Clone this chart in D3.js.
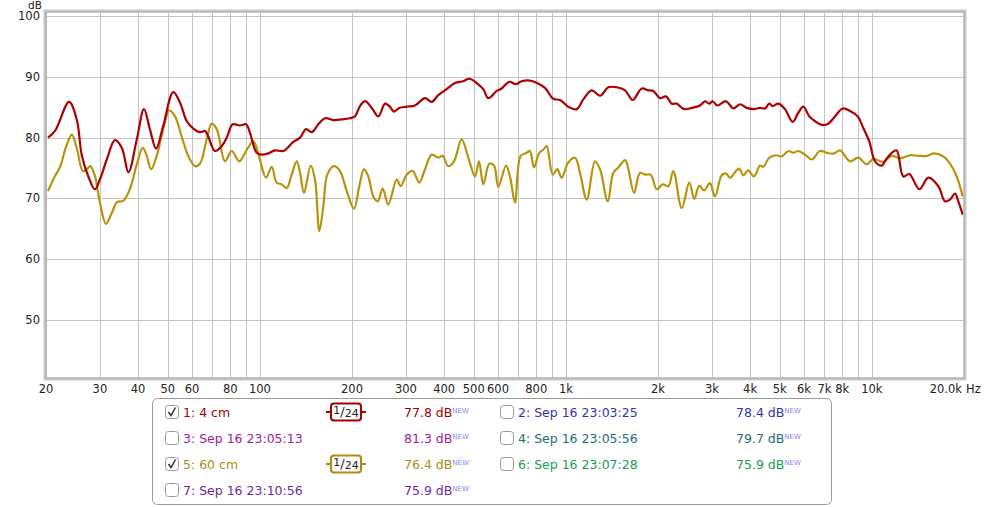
<!DOCTYPE html>
<html>
<head>
<meta charset="utf-8">
<script src="https://cdn.jsdelivr.net/npm/d3@7"></script>
<style>
  body { margin: 0; background: #fff; }
  svg text { font-family: "DejaVu Sans", sans-serif; }
</style>
</head>
<body>
<svg id="chart" width="986" height="507"></svg>
<script>
// measurement 1: 4 cm (red)
const freq4cm = [20.3, 21.4, 23.8, 25.2, 26.2, 27.5, 28.9, 30.0, 31.6, 33.6, 35.4, 37.2, 39.6, 41.8, 43.7, 45.8,
  48.3, 52.1, 54.8, 57.7, 60.6, 63.7, 66.2, 67.8, 71.3, 75.0, 77.9, 81.5, 86.1, 90.1, 92.8, 97.6,
  101.4, 106.5, 112, 119.3, 128.6, 135.3, 141.5, 147.7, 155.2, 163.3, 173.8, 185.1, 197, 204.5, 212.4, 220.6,
  232, 243.8, 256.4, 264.8, 274.4, 285.5, 301.9, 321.2, 346.4, 364.3, 382.8, 407.8, 434.1, 462, 483.4, 511.1,
  537.2, 557.7, 594.1, 616.9, 653.3, 686.9, 717.1, 763.3, 798.6, 854.6, 909.6, 956.6, 1018, 1085, 1140, 1214,
  1293, 1376, 1466, 1561, 1653, 1769, 1859, 1930, 2030, 2124, 2217, 2302, 2432, 2577, 2744, 2849,
  2942, 3019, 3125, 3336, 3525, 3707, 3899, 4097, 4309, 4475, 4621, 4741, 4945, 5200, 5512, 5749,
  5969, 6244, 6519, 6855, 7203, 7575, 8028, 8482, 8986, 9373, 9806, 10240, 10770, 11120, 11610, 12050,
  12660, 13250, 14290, 15290, 16480, 17340, 18000, 18690, 19160, 19810];
const db4cm = [80.0, 81.1, 85.9, 83.0, 77.0, 73.6, 71.5, 73.1, 76.4, 79.6, 78.3, 74.3, 79.7, 84.7, 81.4, 78.2,
  81.9, 87.5, 85.8, 82.7, 81.5, 80.9, 81.1, 80.2, 77.8, 78.6, 80.0, 82.2, 82.0, 82.2, 80.8, 77.5,
  77.2, 77.4, 77.9, 77.8, 79.3, 80.0, 81.4, 80.9, 82.2, 83.2, 82.9, 83.0, 83.2, 83.5, 85.2, 86.0,
  84.9, 83.5, 85.6, 85.2, 84.3, 84.9, 85.1, 85.3, 86.5, 85.9, 87.0, 88.0, 89.0, 89.3, 89.7, 89.0,
  88.0, 86.5, 87.7, 88.1, 89.2, 88.8, 89.3, 89.4, 89.1, 88.2, 86.4, 86.2, 85.1, 84.7, 86.3, 87.8,
  86.9, 88.3, 88.3, 87.8, 86.2, 88.1, 87.8, 87.7, 86.5, 86.8, 85.6, 85.6, 84.7, 84.9, 85.3, 86.0,
  85.6, 86.0, 85.3, 86.0, 84.8, 85.5, 84.9, 84.7, 84.9, 84.8, 85.6, 85.2, 85.6, 84.7, 82.6, 84.1,
  85.1, 83.5, 82.7, 82.1, 82.3, 83.5, 84.8, 84.4, 83.5, 81.6, 79.4, 76.1, 75.4, 76.4, 77.5, 77.9,
  73.6, 74.0, 71.5, 73.4, 72.0, 69.5, 69.8, 70.8, 69.5, 67.3];

// measurement 5: 60 cm (gold)
const freq60cm = [20.3, 21.4, 22.2, 23.3, 24.3, 25.2, 26.4, 27.2, 27.9, 28.9, 30.0, 31.4, 32.8, 34.2, 35.8, 37.6,
  39.6, 41.4, 42.7, 44.1, 46.0, 48.3, 50.6, 52.8, 55.5, 58.3, 61.4, 63.7, 67.0, 69.6, 72.3, 76.9,
  80.9, 85.6, 90.6, 95.2, 99.6, 104.7, 109.3, 113.4, 117.8, 122.4, 127.0, 131.9, 135.3, 139.4, 146.6, 151.4,
  156.4, 161.2, 166.1, 174.7, 182.7, 192.2, 203.0, 211.3, 218.9, 226.1, 234.8, 242.7, 252.0, 262.8, 280.0, 288.6,
  301.9, 315.8, 331.8, 346.4, 364.3, 382.8, 395.7, 412.7, 430.9, 456.5, 479.9, 505.0, 520.0, 537.2, 562.0, 582.3,
  601.4, 637.3, 656.6, 681.9, 711.7, 744.6, 763.3, 786.7, 818.7, 843.8, 865.6, 905.6, 937.4, 969.0, 1018, 1071,
  1112, 1170, 1245, 1293, 1370, 1429, 1484, 1561, 1600, 1670, 1747, 1814, 1893, 1981, 2073, 2162,
  2244, 2391, 2531, 2628, 2729, 2827, 2957, 3071, 3229, 3336, 3439, 3597, 3687, 3800, 3945, 4118,
  4309, 4418, 4621, 4886, 5073, 5332, 5537, 5749, 6046, 6358, 6767, 7117, 7519, 7866, 8482, 9028,
  9616, 10110, 10900, 11610, 12350, 13320, 14180, 15110, 15960, 17120, 18000, 18930, 19810];
const db60cm = [71.2, 73.7, 75.1, 78.6, 80.5, 78.3, 74.5, 74.8, 75.3, 73.7, 69.3, 65.8, 67.6, 69.4, 69.6, 71.5,
  75.6, 78.3, 77.0, 74.8, 77.0, 81.4, 84.5, 83.5, 80.2, 77.0, 75.3, 75.7, 79.7, 82.3, 81.4, 76.1,
  77.8, 76.1, 78.0, 79.4, 76.7, 73.4, 75.2, 72.6, 72.3, 71.7, 73.9, 76.1, 74.2, 70.9, 75.4, 73.1,
  64.6, 68.7, 73.9, 75.3, 74.5, 71.2, 68.3, 72.0, 74.8, 73.6, 70.3, 69.5, 71.6, 69.0, 73.1, 72.0,
  73.9, 74.5, 72.6, 74.8, 77.2, 76.7, 77.0, 75.3, 76.1, 79.7, 76.7, 73.6, 76.1, 72.3, 75.7, 75.4,
  71.9, 75.4, 73.6, 69.3, 77.0, 77.5, 77.8, 75.1, 77.5, 78.0, 78.6, 73.9, 74.8, 73.4, 75.9, 76.7,
  74.2, 69.8, 76.1, 74.8, 69.5, 74.2, 75.1, 76.3, 74.8, 70.9, 74.2, 73.9, 73.9, 71.5, 72.3, 72.0,
  74.5, 68.4, 72.6, 69.9, 72.1, 71.3, 72.5, 70.3, 73.8, 74.1, 73.4, 74.5, 74.9, 73.8, 74.6, 73.6,
  75.4, 75.2, 76.7, 77.1, 76.9, 77.8, 77.5, 77.8, 77.2, 76.4, 77.8, 77.5, 77.4, 77.9, 76.1, 76.7,
  75.6, 76.5, 76.0, 77.0, 76.6, 77.1, 77.0, 77.0, 77.4, 76.9, 75.7, 73.6, 70.3];

const gridFreqs = [20, 30, 40, 50, 60, 70, 80, 90, 100, 200, 300, 400, 500, 600, 700, 800, 900,
  1000, 2000, 3000, 4000, 5000, 6000, 7000, 8000, 9000, 10000, 20000];
const freqLabels = [20, 30, 40, 50, 60, 80, 100, 200, 300, 400, 500, 600, 800, 1000, 2000, 3000,
  4000, 5000, 6000, 7000, 8000, 10000];
const dbTicks = [50, 60, 70, 80, 90, 100];

// legend rows: [label, value, colour, checked, filter]
const legendLeft = [
  ["1: 4 cm", "77.8 dB", "#a30000", true, "1/24"],
  ["3: Sep 16 23:05:13", "81.3 dB", "#a3189c", false, null],
  ["5: 60 cm", "76.4 dB", "#b08b0c", true, "1/24"],
  ["7: Sep 16 23:10:56", "75.9 dB", "#7327a3", false, null]
];
const legendRight = [
  ["2: Sep 16 23:03:25", "78.4 dB", "#3434a6", false, null],
  ["4: Sep 16 23:05:56", "79.7 dB", "#1d6f72", false, null],
  ["6: Sep 16 23:07:28", "75.9 dB", "#1a9d4e", false, null]
];

const plotL = 46, plotR = 964, plotT = 12, plotB = 378;

const svg = d3.select("#chart");

const x = d3.scaleLog().domain([20, 20000]).range([plotL, plotR]);
const y = d3.scaleLinear().domain([40.4, 100.7]).range([plotB, plotT]);

// plot background + grid
svg.append("rect")
  .attr("x", plotL).attr("y", plotT)
  .attr("width", plotR - plotL).attr("height", plotB - plotT)
  .attr("fill", "#fff");

svg.append("g")
  .selectAll("line")
  .data(gridFreqs)
  .join("line")
    .attr("x1", d => Math.round(x(d)) + 0.5)
    .attr("x2", d => Math.round(x(d)) + 0.5)
    .attr("y1", plotT).attr("y2", plotB)
    .attr("stroke", "#c4c4c4").attr("stroke-width", 1);

svg.append("g")
  .selectAll("line")
  .data(dbTicks)
  .join("line")
    .attr("x1", plotL).attr("x2", plotR)
    .attr("y1", d => Math.round(y(d)) + 0.5)
    .attr("y2", d => Math.round(y(d)) + 0.5)
    .attr("stroke", "#c4c4c4").attr("stroke-width", 1);

// curves
let line = d3.line()
  .x(d => x(d[0]))
  .y(d => y(d[1]))
  .curve(d3.curveCatmullRom.alpha(0.5));

let plot = svg.append("g");
plot.append("path")
  .datum(freq60cm.map((f, i) => [f, db60cm[i]]))
  .attr("d", line)
  .attr("fill", "none")
  .attr("stroke", "#b8930e")
  .attr("stroke-width", 2.2)
  .attr("stroke-linejoin", "round");

plot.append("path")
  .datum(freq4cm.map((f, i) => [f, db4cm[i]]))
  .attr("d", line)
  .attr("fill", "none")
  .attr("stroke", "#ad0000")
  .attr("stroke-width", 2.2)
  .attr("stroke-linejoin", "round");

// frame
svg.append("rect")
  .attr("x", plotL - 1).attr("y", plotT - 1)
  .attr("width", plotR - plotL + 2).attr("height", plotB - plotT + 2)
  .attr("fill", "none")
  .attr("stroke", "#c9c9c9").attr("stroke-width", 3);
svg.append("rect")
  .attr("x", plotL).attr("y", plotT)
  .attr("width", plotR - plotL).attr("height", plotB - plotT)
  .attr("fill", "none")
  .attr("stroke", "#a8a8a8").attr("stroke-width", 1);

// axis labels
svg.append("g")
  .selectAll("text")
  .data(dbTicks)
  .join("text")
    .attr("x", 40)
    .attr("y", d => y(d) + 4)
    .attr("text-anchor", "end")
    .attr("font-size", 11.5)
    .attr("fill", "#222")
    .text(d => d);

svg.append("text")
  .attr("x", 35).attr("y", 9)
  .attr("text-anchor", "middle")
  .attr("font-size", 10.5)
  .attr("fill", "#222")
  .text("dB");

let fmt = d => d >= 1000 ? (d / 1000) + "k" : d;
svg.append("g")
  .selectAll("text")
  .data(freqLabels)
  .join("text")
    .attr("x", d => x(d))
    .attr("y", 393)
    .attr("text-anchor", "middle")
    .attr("font-size", 11.5)
    .attr("fill", "#222")
    .text(fmt);

svg.append("text")
  .attr("x", x(20000) - 2).attr("y", 393)
  .attr("text-anchor", "end")
  .attr("font-size", 11.5)
  .attr("fill", "#222")
  .text("20.0k");
svg.append("text")
  .attr("x", x(20000) + 2).attr("y", 393)
  .attr("font-size", 11.5)
  .attr("fill", "#222")
  .text("Hz");

// legend panel
svg.append("rect")
  .attr("x", 152.5).attr("y", 398.5)
  .attr("width", 679).attr("height", 106)
  .attr("rx", 5)
  .attr("fill", "#fff")
  .attr("stroke", "#9a9a9a");

function drawLegendColumn(rows, x0, valueX) {
  let g = svg.append("g");
  rows.forEach((r, i) => {
    let cy = 412 + i * 26;
    let row = g.append("g");
    row.append("rect")
      .attr("x", x0 + 0.5).attr("y", cy - 6.5)
      .attr("width", 13).attr("height", 13)
      .attr("rx", 3)
      .attr("fill", "#fff")
      .attr("stroke", "#9a9a9a");
    if (r[3]) {
      row.append("path")
        .attr("d", `M${x0 + 3.5},${cy} L${x0 + 6},${cy + 3.5} L${x0 + 10.5},${cy - 4.5}`)
        .attr("fill", "none")
        .attr("stroke", "#333")
        .attr("stroke-width", 1.5);
    }
    row.append("text")
      .attr("x", x0 + 18).attr("y", cy + 4.5)
      .attr("font-family", "Liberation Sans, sans-serif")
      .attr("font-size", 12.5)
      .attr("fill", r[2])
      .text(r[0]);
    let val = row.append("text")
      .attr("x", valueX).attr("y", cy + 4.5)
      .attr("font-family", "Liberation Sans, sans-serif")
      .attr("font-size", 12.5)
      .attr("fill", r[2]);
    val.append("tspan").text(r[1]);
    val.append("tspan")
      .attr("dy", -4)
      .attr("font-size", 7)
      .attr("fill", "#8a88f0")
      .text("NEW");
    if (r[4]) {
      let bx = 346;
      row.append("line")
        .attr("x1", bx - 20).attr("x2", bx + 20)
        .attr("y1", cy).attr("y2", cy)
        .attr("stroke", r[2]).attr("stroke-width", 2);
      row.append("rect")
        .attr("x", bx - 15).attr("y", cy - 8.5)
        .attr("width", 30).attr("height", 17)
        .attr("rx", 3)
        .attr("fill", "#fff")
        .attr("stroke", r[2]).attr("stroke-width", 2);
      let t = row.append("text")
        .attr("x", bx).attr("y", cy + 4)
        .attr("text-anchor", "middle")
        .attr("font-size", 11)
        .attr("fill", "#222");
      t.append("tspan").attr("dy", -2).text("1");
      t.append("tspan").attr("dy", 2).attr("font-size", 13).text("/");
      t.append("tspan").attr("dy", 1).text("24");
    }
  });
}

drawLegendColumn(legendLeft, 165, 404);
drawLegendColumn(legendRight, 500, 736);
</script>
</body>
</html>
